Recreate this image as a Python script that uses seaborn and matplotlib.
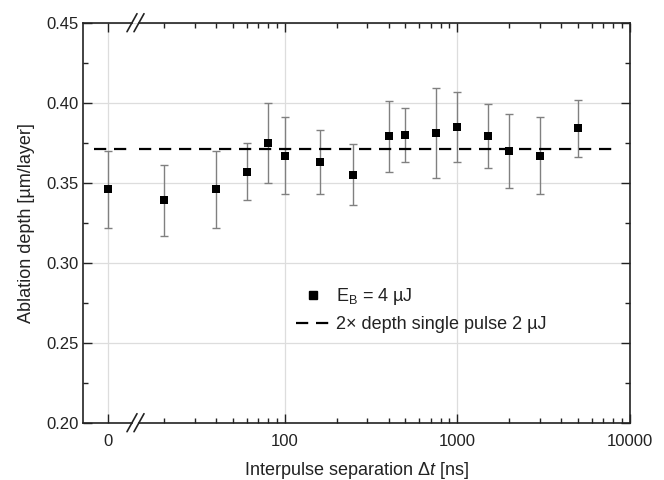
import numpy as np
import pandas as pd
import matplotlib
matplotlib.use("Agg")
import matplotlib.pyplot as plt
import seaborn as sb
from matplotlib.lines import Line2D
from matplotlib.ticker import LogLocator, MultipleLocator, NullFormatter, FixedLocator

# values
dt = [0, 20, 40, 60, 80, 100, 160, 250, 400, 500, 750, 1000, 1500, 2000, 3000, 5000]
depth = [0.346, 0.339, 0.346, 0.357, 0.375, 0.367, 0.363, 0.355, 0.379, 0.380,
         0.381, 0.385, 0.379, 0.370, 0.367, 0.384]
err = [0.024, 0.022, 0.024, 0.018, 0.025, 0.024, 0.020, 0.019, 0.022, 0.017,
       0.028, 0.022, 0.020, 0.023, 0.024, 0.018]
single_pulse_ref = 0.371

df = pd.DataFrame({"dt": dt, "depth": depth, "err": err})
df_zero = df[df["dt"] == 0]
df_log = df[df["dt"] > 0]

sb.set_style("white")
plt.rcParams["font.family"] = ["Liberation Sans", "DejaVu Sans"]
plt.rcParams["mathtext.fontset"] = "custom"
plt.rcParams["mathtext.rm"] = "Liberation Sans"
plt.rcParams["mathtext.it"] = "Liberation Sans:italic"

fig = plt.figure(figsize=(6.64, 4.8), dpi=100)
W, H = 664, 480
x_left, x_brk1, x_brk2, x_right = 83.3, 132, 139, 630
y_top, y_bot = 22.7, 422.7
bottom = 1 - y_bot / H
height = (y_bot - y_top) / H

# background axes only for the horizontal grid running across the break
ax0 = fig.add_axes([x_left / W, bottom, (x_right - x_left) / W, height])
ax1 = fig.add_axes([x_left / W, bottom, (x_brk1 - x_left) / W, height], sharey=ax0)
ax2 = fig.add_axes([x_brk2 / W, bottom, (x_right - x_brk2) / W, height], sharey=ax0)
ax0.set_xticks([])
ax0.tick_params(which="both", left=False, labelleft=False)
for sp in ax0.spines.values():
    sp.set_visible(False)
ax0.grid(True, axis="y", which="major", color="#dddddd", lw=0.9)

err_kw = dict(fmt="none", ecolor="#808080", elinewidth=1.0, capsize=2.6, capthick=1.0, zorder=2)
ax1.errorbar(df_zero["dt"], df_zero["depth"], yerr=df_zero["err"], **err_kw)
ax2.errorbar(df_log["dt"], df_log["depth"], yerr=df_log["err"], **err_kw)
sb.scatterplot(data=df_zero, x="dt", y="depth", marker="s", s=36, color="black",
               linewidth=0, ax=ax1, zorder=3)
sb.scatterplot(data=df_log, x="dt", y="depth", marker="s", s=36, color="black",
               linewidth=0, ax=ax2, zorder=3)

line_kw = dict(color="black", lw=1.6, dashes=(5.5, 3.5), zorder=2)
ax1.axhline(single_pulse_ref, xmin=0.22, xmax=1, **line_kw)
ax2.axhline(single_pulse_ref, xmin=0, xmax=0.978, **line_kw)

ax1.set_xlim(-1, 1)
ax2.set_xscale("log")
ax2.set_xlim(14.3, 10000)
ax0.set_ylim(0.20, 0.45)

ax1.xaxis.set_major_locator(FixedLocator([0]))
ax1.set_xticklabels(["0"])
ax2.xaxis.set_major_locator(FixedLocator([100, 1000, 10000]))
ax2.set_xticklabels(["100", "1000", "10000"])
ax2.xaxis.set_minor_locator(LogLocator(base=10, subs=np.arange(2, 10)))
ax2.xaxis.set_minor_formatter(NullFormatter())
ax0.yaxis.set_major_locator(MultipleLocator(0.05))
ax0.yaxis.set_minor_locator(MultipleLocator(0.025))
ax1.yaxis.set_major_formatter(matplotlib.ticker.FormatStrFormatter("%.2f"))

for ax in (ax1, ax2):
    ax.patch.set_visible(False)
    ax.grid(True, axis="x", which="major", color="#dddddd", lw=0.9, zorder=0)
    ax.grid(False, axis="y")
    ax.set_axisbelow(True)
    for sp in ax.spines.values():
        sp.set_linewidth(1.2)
        sp.set_color("#222222")
    ax.tick_params(which="major", direction="in", length=6.5, width=1.0,
                   labelsize=12, colors="#222222", top=True, bottom=True)
    ax.tick_params(which="minor", direction="in", length=3.5, width=1.0,
                   colors="#222222", top=True, bottom=True)
    ax.tick_params(axis="x", pad=8)
    ax.set_xlabel("")
    ax.set_ylabel("")

ax1.spines["right"].set_visible(False)
ax2.spines["left"].set_visible(False)
ax1.tick_params(which="both", left=True, right=False)
ax2.tick_params(which="both", left=False, labelleft=False, right=True)

# break marks
for xc in (x_brk1, x_brk2):
    for yc in (y_top, y_bot):
        fig.add_artist(Line2D([(xc - 5) / W, (xc + 5) / W],
                              [1 - (yc + 9) / H, 1 - (yc - 9) / H],
                              color="#222222", lw=1.2))

ax1.set_ylabel("Ablation depth [µm/layer]", fontsize=13, color="#222222", labelpad=8)
fig.text((x_left + x_right) / 2 / W, 1 - 475 / H, "Interpulse separation Δ$\\it{t}$ [ns]",
         ha="center", va="baseline", fontsize=13, color="#222222")

handles = [Line2D([], [], marker="s", color="black", ls="none", markersize=5.5),
           Line2D([], [], color="black", lw=1.6, dashes=(5.5, 3.5))]
labels = ["E$_\\mathregular{B}$ = 4 µJ", "2× depth single pulse 2 µJ"]
ax2.legend(handles, labels, loc="upper left", bbox_to_anchor=(296 / W, 1 - 286 / H),
           bbox_transform=fig.transFigure, frameon=False, fontsize=13,
           handlelength=1.9, handletextpad=0.3, borderpad=0, borderaxespad=0,
           labelspacing=0.5, labelcolor="#222222")

fig.savefig("out.png", dpi=100)
